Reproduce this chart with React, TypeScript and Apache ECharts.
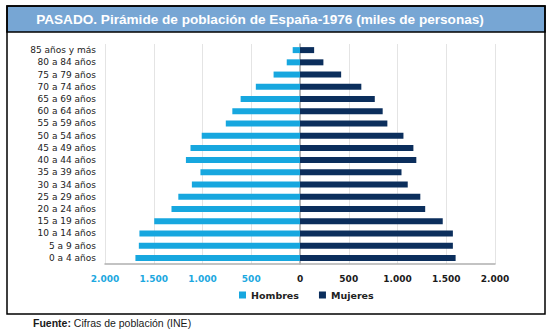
import React, { useEffect, useRef } from "react";
import * as echarts from "echarts";

const categories = [
  "0 a 4 años", "5 a 9 años", "10 a 14 años", "15 a 19 años", "20 a 24 años",
  "25 a 29 años", "30 a 34 años", "35 a 39 años", "40 a 44 años", "45 a 49 años",
  "50 a 54 años", "55 a 59 años", "60 a 64 años", "65 a 69 años", "70 a 74 años",
  "75 a 79 años", "80 a 84 años", "85 años y más",
];
const hombres = [1688, 1653, 1647, 1495, 1318, 1248, 1109, 1021, 1170, 1123, 1008, 761, 694, 609, 453, 271, 136, 75];
const mujeres = [1596, 1568, 1568, 1464, 1284, 1234, 1105, 1041, 1193, 1163, 1061, 896, 848, 767, 629, 422, 240, 145];

const titleText = "PASADO. Pirámide de población de España-1976 (miles de personas)";
const sourceLabel = "Fuente:";
const sourceText = " Cifras de población (INE)";

const fmt = (v: number) => {
  const a = Math.abs(v);
  return a >= 1000 ? Math.floor(a / 1000) + "." + String(a % 1000).padStart(3, "0") : String(a);
};

export default function App() {
  const ref = useRef<HTMLDivElement>(null);
  useEffect(() => {
    const chart = echarts.init(ref.current!, null, { renderer: "svg" });
    const font = "'DejaVu Sans', Lato, sans-serif";
    chart.setOption({
      animation: false,
      backgroundColor: "#ffffff",
      graphic: [
        { type: "rect", shape: { x: 7, y: 6, width: 538, height: 308 }, style: { fill: "none", stroke: "#000", lineWidth: 1.5 }, z: 100 },
        { type: "rect", shape: { x: 7, y: 6, width: 538, height: 26 }, style: { fill: "#77A6D4", stroke: "#000", lineWidth: 1.5 }, z: 99 },
        { type: "text", x: 260, y: 19, style: { text: titleText, fill: "#ffffff", font: "bold 13.6px 'Liberation Sans', Arial, sans-serif", textAlign: "center", textVerticalAlign: "middle" }, z: 101 },
        {
          type: "text", x: 33, y: 323,
          style: {
            text: "{b|" + sourceLabel + "}{r|" + sourceText + "}",
            textVerticalAlign: "middle",
            rich: {
              b: { font: "bold 10.5px 'Liberation Sans', Arial, sans-serif", fill: "#1a1a1a" },
              r: { font: "10.5px 'Liberation Sans', Arial, sans-serif", fill: "#1a1a1a" },
            },
          },
        },
      ],
      legend: {
        data: ["Hombres", "Mujeres"],
        top: 285,
        left: 234,
        icon: "rect",
        itemWidth: 7,
        itemHeight: 7,
        itemGap: 20,
        textStyle: { fontFamily: font, fontWeight: "bold", fontSize: 9.5, color: "#222" },
      },
      grid: { left: 105, right: 59, top: 44, height: 220 },
      xAxis: {
        type: "value",
        min: -2000,
        max: 2000,
        interval: 500,
        axisLine: { show: true, onZero: false, lineStyle: { color: "#b0b0b0", width: 1.5 } },
        axisTick: { show: false },
        splitLine: { show: true, lineStyle: { color: "#e4e4e4", width: 1 } },
        axisLabel: {
          formatter: (v: number) => fmt(v),
          fontFamily: font,
          fontWeight: "bold",
          fontSize: 9,
          margin: 10,
          color: (v: any) => (Number(v) < 0 ? "#1CA8E0" : "#1a1a1a"),
        },
      },
      yAxis: {
        type: "category",
        data: categories,
        axisLine: { show: true, lineStyle: { color: "#a6a6a6", width: 1.5 } },
        axisTick: { show: false },
        axisLabel: { interval: 0, fontFamily: font, fontSize: 9, color: "#222", margin: 9 },
      },
      series: [
        {
          name: "Hombres",
          type: "bar",
          stack: "total",
          barWidth: 6,
          itemStyle: { color: "#17A7DF" },
          data: hombres.map((v) => -v),
        },
        {
          name: "Mujeres",
          type: "bar",
          stack: "total",
          barWidth: 6,
          itemStyle: { color: "#0B2E5C" },
          data: mujeres,
        },
      ],
    });
    return () => chart.dispose();
  }, []);
  return (
    <div style={{ position: "absolute", left: 0, top: 0, width: 554, height: 335 }}>
      <div ref={ref} style={{ width: 554, height: 335 }} />
    </div>
  );
}
